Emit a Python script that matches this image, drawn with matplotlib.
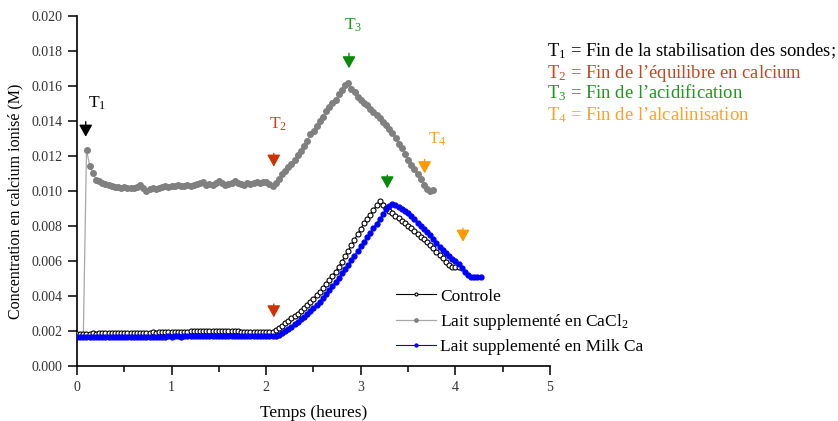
import numpy as np
import matplotlib
matplotlib.use("Agg")
import matplotlib.pyplot as plt

plt.rcParams['font.family'] = ['Liberation Serif', 'DejaVu Serif']
plt.rcParams['mathtext.fontset'] = 'custom'
plt.rcParams['mathtext.rm'] = 'Liberation Serif'
plt.rcParams['mathtext.it'] = 'Liberation Serif:italic'

# sampling: one reading every 2 minutes (1/30 h)
step = 1.0 / 30

# Lait supplemente en CaCl2 (mM), first reading at 0.067 h
cacl2_t0 = 0.067
cacl2 = [
    1.80, 12.35, 11.45, 11.05, 10.65, 10.55, 10.45, 10.40, 10.35, 10.30, 10.25, 10.25, 10.20, 10.25, 10.20,
    10.15, 10.20, 10.25, 10.35, 10.15, 10.00, 10.10, 10.15, 10.10, 10.20, 10.25, 10.30, 10.25, 10.30, 10.30,
    10.35, 10.30, 10.30, 10.35, 10.30, 10.35, 10.40, 10.45, 10.50, 10.35, 10.40, 10.35, 10.45, 10.55, 10.45,
    10.35, 10.40, 10.45, 10.55, 10.45, 10.40, 10.35, 10.45, 10.40, 10.45, 10.50, 10.45, 10.50, 10.50, 10.40,
    10.30, 10.45, 10.70, 10.95, 11.15, 11.35, 11.55, 11.80, 12.05, 12.30, 12.55, 12.85, 13.25, 13.45, 13.70,
    14.00, 14.25, 14.55, 14.80, 15.05, 15.20, 15.55, 15.80, 16.05, 16.15, 15.85, 15.65, 15.40, 15.20, 15.05,
    14.90, 14.70, 14.50, 14.35, 14.15, 13.95, 13.75, 13.55, 13.30, 13.05, 12.70, 12.45, 12.10, 11.80, 11.50,
    11.25, 10.95, 10.70, 10.35, 10.10, 10.00, 10.05,
]

# Controle (mM), from 0 h
controle = [
    1.85, 1.85, 1.84, 1.85, 1.85, 1.86, 1.85, 1.86, 1.87, 1.86, 1.87, 1.87, 1.88, 1.87, 1.88,
    1.88, 1.89, 1.88, 1.89, 1.90, 1.90, 1.91, 1.90, 1.91, 1.92, 1.91, 1.92, 1.92, 1.93, 1.92,
    1.93, 1.93, 1.94, 1.95, 1.96, 1.97, 1.98, 1.98, 1.99, 2.00, 2.00, 1.99, 2.00, 2.01, 2.00,
    2.01, 2.00, 2.00, 2.01, 2.00, 1.99, 1.98, 1.97, 1.96, 1.97, 1.96, 1.95, 1.96, 1.95, 1.94,
    1.95, 1.94, 1.96, 2.05, 2.18, 2.30, 2.45, 2.58, 2.72, 2.85, 3.00, 3.15, 3.30, 3.48, 3.66,
    3.85, 4.05, 4.25, 4.45, 4.68, 4.91, 5.15, 5.40, 5.68, 5.95, 6.26, 6.58, 6.90, 7.22, 7.54,
    7.85, 8.15, 8.42, 8.65, 8.92, 9.18, 9.42, 9.20, 9.02, 8.85, 8.72, 8.58, 8.44, 8.30, 8.16,
    8.02, 7.87, 7.71, 7.55, 7.39, 7.23, 7.07, 6.91, 6.72, 6.53, 6.34, 6.15, 5.96, 5.77, 5.66,
    5.64, 5.64,
]

# Lait supplemente en Milk Ca (mM), from 0 h
milkca = [
    1.67, 1.66, 1.66, 1.65, 1.66, 1.66, 1.65, 1.66, 1.66, 1.67, 1.66, 1.66, 1.67, 1.66, 1.67,
    1.67, 1.66, 1.67, 1.67, 1.68, 1.67, 1.67, 1.68, 1.67, 1.68, 1.68, 1.67, 1.68, 1.68, 1.69,
    1.68, 1.69, 1.69, 1.68, 1.69, 1.70, 1.69, 1.70, 1.70, 1.69, 1.70, 1.71, 1.70, 1.70, 1.71,
    1.70, 1.71, 1.70, 1.71, 1.72, 1.71, 1.71, 1.72, 1.71, 1.72, 1.72, 1.73, 1.72, 1.72, 1.73,
    1.72, 1.73, 1.72, 1.74, 1.80, 1.90, 2.00, 2.12, 2.25, 2.38, 2.52, 2.66, 2.80, 2.96, 3.13,
    3.30, 3.48, 3.68, 3.88, 4.10, 4.32, 4.55, 4.80, 5.05, 5.30, 5.55, 5.80, 6.05, 6.30, 6.58,
    6.85, 7.10, 7.35, 7.60, 7.87, 8.13, 8.40, 8.68, 8.95, 9.15, 9.25, 9.20, 9.10, 8.98, 8.86,
    8.72, 8.55, 8.38, 8.20, 8.02, 7.85, 7.68, 7.46, 7.24, 7.01, 6.82, 6.63, 6.44, 6.28, 6.12,
    5.98, 5.82, 5.62, 5.40, 5.18, 5.08, 5.06, 5.07, 5.06,
]

# event markers: (label, x, arrow top, arrow tip, label x, label baseline) in h / mM
red = '#cc3300'
green = '#0a8a0a'
orange = '#ff9900'
events = [
    ('T$_1$', 0.092, 13.96, 13.10, 0.116, 14.78, 'black', 'black'),
    ('T$_2$', 2.08, 12.15, 11.39, 2.03, 13.58, red, '#d04020'),
    ('T$_3$', 2.875, 17.87, 17.01, 2.823, 19.20, green, '#1a9a1a'),
    ('T$_4$', 3.675, 11.81, 11.01, 3.71, 12.72, orange, '#ffa020'),
]
extra_arrows = [(2.08, 3.54, 2.78, red), (3.28, 10.91, 10.15, green), (4.08, 7.87, 7.10, orange)]

legend_lines = [
    ('T$_1$ = Fin de la stabilisation des sondes;', 'black'),
    ('T$_2$ = Fin de l\u2019\u00e9quilibre en calcium', '#d04020'),
    ('T$_3$ = Fin de l\u2019acidification', '#1a9a1a'),
    ('T$_4$ = Fin de l\u2019alcalinisation', '#ffa020'),
]


def times(t0, vals):
    return t0 + step * np.arange(len(vals))


fig = plt.figure(figsize=(8.38, 4.21), dpi=100)
ax = fig.add_axes([0.0919, 0.1306, 0.5644, 0.8314])

ax.plot(times(0.0, controle), np.array(controle) / 1000, '-o', color='black', lw=0.8,
        ms=3.6, mfc='white', mec='black', mew=0.8, label='Controle', zorder=3)
ax.plot(times(cacl2_t0, cacl2), np.array(cacl2) / 1000, '-o', color='#a8a8a8', lw=0.9,
        ms=4.0, mfc='#808080', mec='#808080', label='Lait supplement\u00e9 en CaCl$_2$', zorder=2)
ax.plot(times(0.0, milkca), np.array(milkca) / 1000, '-o', color='#0000ff', lw=0.8,
        ms=3.5, mfc='#0000ff', mec='#0000ff', label='Lait supplement\u00e9 en Milk Ca', zorder=4)

for lab, x, top, tip, lx, ly, acol, tcol in events:
    ax.annotate('', xy=(x, tip / 1000), xytext=(x, top / 1000),
                arrowprops=dict(arrowstyle='-|>,head_length=0.45,head_width=0.25', color=acol,
                                lw=1.0, shrinkA=0, shrinkB=0, mutation_scale=16))
    ax.text(lx, ly / 1000, lab, color=tcol, fontsize=12.5, ha='left', va='baseline')

for x, top, tip, acol in extra_arrows:
    ax.annotate('', xy=(x, tip / 1000), xytext=(x, top / 1000),
                arrowprops=dict(arrowstyle='-|>,head_length=0.45,head_width=0.25', color=acol,
                                lw=1.0, shrinkA=0, shrinkB=0, mutation_scale=16))

ax.set_xlim(0, 5)
ax.set_ylim(0, 0.020)
ax.set_xticks(np.arange(0, 6, 1))
ax.set_xticks(np.arange(0.5, 5, 1), minor=True)
ax.set_yticks(np.arange(0, 0.0201, 0.002))
ax.set_yticklabels(['%.3f' % v for v in np.arange(0, 0.0201, 0.002)])
ax.spines['top'].set_visible(False)
ax.spines['right'].set_visible(False)
for s in ('left', 'bottom'):
    ax.spines[s].set_linewidth(1.2)
ax.tick_params(which='major', direction='out', length=6.5, width=1.1, labelsize=10,
               labelcolor='#333333', pad=4)
ax.tick_params(which='minor', direction='out', length=4, width=1.1)

ax.set_xlabel('Temps (heures)', fontsize=12.5, labelpad=8)
ax.set_ylabel('Concentration en calcium ionis\u00e9 (M)', fontsize=11.5)
ax.yaxis.set_label_coords(-0.113, 0.47)

ax.legend(loc='upper left', bbox_to_anchor=(0.473, 0.315), bbox_transform=fig.transFigure,
          frameon=False, fontsize=12.5, handlelength=2.3, handletextpad=0.2,
          labelspacing=0.42, markerscale=0.6, borderpad=0, borderaxespad=0)

for i, (txt, col) in enumerate(legend_lines):
    yb = [56.5, 77.5, 98.5, 120.0][i]
    fig.text(547 / 838, 1 - yb / 421, txt, color=col, fontsize=13.4, ha='left', va='baseline')

fig.savefig('out.png', dpi=100)
